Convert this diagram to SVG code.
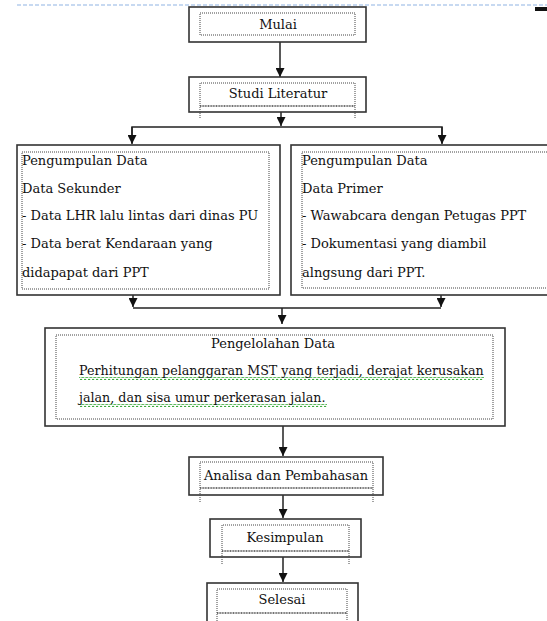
<svg xmlns="http://www.w3.org/2000/svg" width="547" height="621" viewBox="0 0 547 621">
<style>
.outer{fill:#fff;stroke:#333;stroke-width:1.6}
.inner{fill:none;stroke:#444;stroke-width:1;stroke-dasharray:1,1}
.dense{fill:none;stroke:#444;stroke-width:1.6;stroke-dasharray:1,0.6}
.t{font-family:"DejaVu Serif","Liberation Serif",serif;font-size:13px;fill:#111}
.s{font-size:12.7px}
.c{text-anchor:middle}
.conn{stroke:#222;stroke-width:1.5;fill:none}
</style>
<defs>
<marker id="ah" viewBox="0 0 10 10" refX="10" refY="5" markerWidth="9" markerHeight="9" markerUnits="userSpaceOnUse" orient="auto"><path d="M0,0 L10,5 L0,10 z" fill="#111"/></marker>
<pattern id="wave" width="4" height="3" patternUnits="userSpaceOnUse"><path d="M0,2.2 Q1,0.2 2,2.2 T4,2.2" fill="none" stroke="#2fa52f" stroke-width="1.1"/></pattern>
</defs>
<rect width="547" height="621" fill="#fff"/>
<line x1="17" y1="5" x2="547" y2="5" stroke="#8fb4e3" stroke-width="1.2" stroke-dasharray="4,2"/>
<rect x="263" y="7" width="24" height="3.5" fill="#111"/>
<rect x="535" y="7" width="12" height="4" fill="#111"/>

<g id="connectors">
<line class="conn" x1="280" y1="42" x2="280" y2="77" marker-end="url(#ah)"/>
<line class="conn" x1="281" y1="112" x2="281" y2="126" marker-end="url(#ah)"/>
<polyline class="conn" points="132,143 132,127 442,127 442,143"/>
<line class="conn" x1="132" y1="127" x2="132" y2="144" marker-end="url(#ah)"/>
<line class="conn" x1="442" y1="127" x2="442" y2="144" marker-end="url(#ah)"/>
<line class="conn" x1="133" y1="295" x2="133" y2="307" marker-end="url(#ah)"/>
<line class="conn" x1="441" y1="295" x2="441" y2="307" marker-end="url(#ah)"/>
<line class="conn" x1="133" y1="308" x2="441" y2="308"/>
<line class="conn" x1="282" y1="308" x2="282" y2="324" marker-end="url(#ah)"/>
<line class="conn" x1="283" y1="426" x2="283" y2="456" marker-end="url(#ah)"/>
<line class="conn" x1="283" y1="495" x2="283" y2="518" marker-end="url(#ah)"/>
<line class="conn" x1="283" y1="557" x2="283" y2="582" marker-end="url(#ah)"/>
</g>

<g id="mulai">
<rect class="outer" x="189" y="7" width="177" height="35"/>
<rect class="inner" x="200" y="13" width="155" height="22"/>
<text class="t c" x="278" y="29">Mulai</text>
</g>

<g id="studi">
<rect class="outer" x="189" y="77" width="177" height="35"/>
<path class="inner" d="M200,118 V83 H355 V118"/>
<line class="dense" x1="200" y1="106" x2="355" y2="106"/>
<text class="t c" x="278" y="98">Studi Literatur</text>
</g>

<g id="sekunder">
<rect class="outer" x="17" y="145" width="263" height="150"/>
<rect class="inner" x="22" y="152" width="247" height="137"/>
<text class="t" x="22" y="165">Pengumpulan Data</text>
<text class="t" x="22" y="193">Data Sekunder</text>
<text class="t" x="22" y="220">- Data LHR lalu lintas dari dinas PU</text>
<text class="t" x="22" y="248">- Data berat Kendaraan yang</text>
<text class="t" x="22" y="277">didapapat dari PPT</text>
</g>

<g id="primer">
<rect class="outer" x="291" y="145" width="270" height="150"/>
<rect class="inner" x="302" y="152" width="260" height="136"/>
<text class="t" x="302" y="165">Pengumpulan Data</text>
<text class="t" x="302" y="193">Data Primer</text>
<text class="t" x="302" y="220">- Wawabcara dengan Petugas PPT</text>
<text class="t" x="302" y="248">- Dokumentasi yang diambil</text>
<text class="t" x="302" y="277">alngsung dari PPT.</text>
</g>

<g id="pengelolahan">
<rect class="outer" x="45" y="328" width="460" height="98"/>
<rect class="inner" x="56" y="335" width="437" height="84"/>
<text class="t c" x="273" y="348">Pengelolahan Data</text>
<rect x="79" y="377" width="405" height="3" fill="url(#wave)"/>
<rect x="79" y="404" width="248" height="3" fill="url(#wave)"/>
<text class="t s" x="79" y="375">Perhitungan pelanggaran MST yang terjadi, derajat kerusakan</text>
<text class="t s" x="79" y="402">jalan, dan sisa umur perkerasan jalan.</text>
</g>

<g id="analisa">
<rect class="outer" x="189" y="457" width="194" height="38"/>
<path class="inner" d="M200,502 V462 H373 V502"/>
<line class="dense" x1="200" y1="488" x2="373" y2="488"/>
<text class="t c" x="286" y="480">Analisa dan Pembahasan</text>
</g>

<g id="kesimpulan">
<rect class="outer" x="210" y="519" width="151" height="38"/>
<path class="inner" d="M222,564 V525 H349 V564"/>
<line class="dense" x1="222" y1="551" x2="349" y2="551"/>
<text class="t c" x="285" y="542">Kesimpulan</text>
</g>

<g id="selesai">
<rect class="outer" x="207" y="583" width="151" height="45"/>
<path class="inner" d="M217,621 V589 H347 V621"/>
<line class="dense" x1="217" y1="613" x2="347" y2="613"/>
<text class="t c" x="282" y="604">Selesai</text>
</g>
</svg>
